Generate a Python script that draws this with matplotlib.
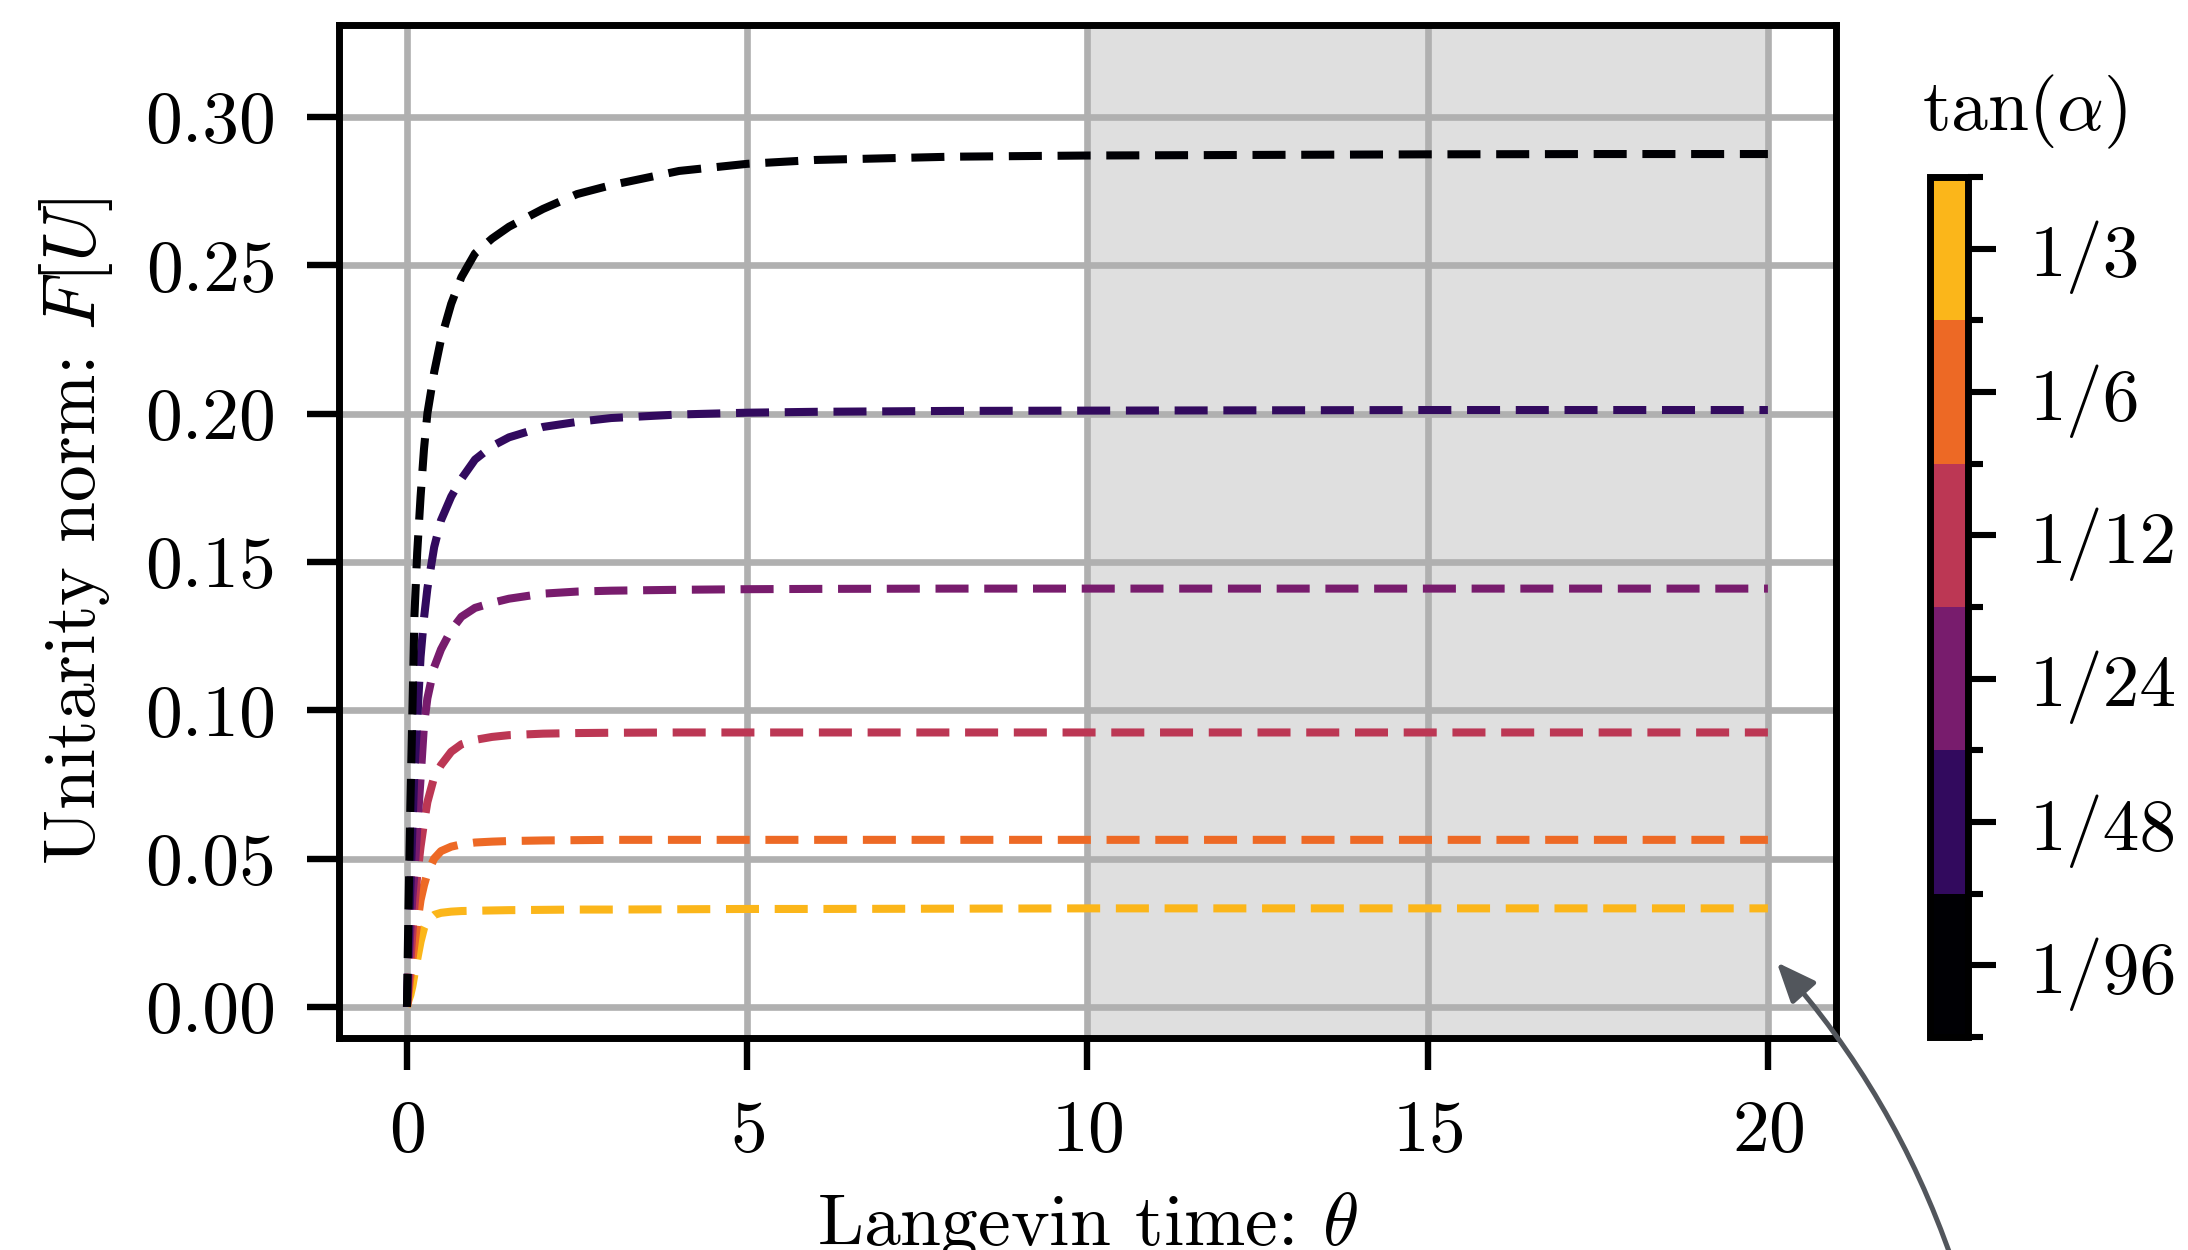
import numpy as np
import matplotlib
matplotlib.use('Agg')
import matplotlib.pyplot as plt
from matplotlib.colors import ListedColormap, BoundaryNorm
from matplotlib.cm import ScalarMappable
from matplotlib.ticker import FixedLocator

plt.rcParams['font.family'] = 'serif'
plt.rcParams['font.serif'] = ['cmr10']
plt.rcParams['mathtext.fontset'] = 'cm'
plt.rcParams['axes.formatter.use_mathtext'] = True
plt.rcParams['font.size'] = 26.5

# Langevin time samples
theta = [0, 0.02, 0.05, 0.08, 0.11, 0.15, 0.2, 0.25, 0.3, 0.4, 0.5, 0.65, 0.8, 1.0,
         1.25, 1.5, 2.0, 2.5, 3.0, 4.0, 5.0, 6.0, 8.0, 10.0, 12.5, 15.0, 17.5, 20.0]

# unitarity norm for each tan(alpha)
F_96 = [0, 0.030, 0.068, 0.100, 0.132, 0.153, 0.172, 0.188, 0.200, 0.214, 0.225, 0.237, 0.246, 0.254,
        0.259, 0.263, 0.269, 0.274, 0.277, 0.2818, 0.2842, 0.2855, 0.2866, 0.2870, 0.2872, 0.2874, 0.2875, 0.2875]
F_48 = [0, 0.018, 0.040, 0.060, 0.080, 0.096, 0.118, 0.131, 0.141, 0.155, 0.164, 0.172, 0.178, 0.1845,
        0.189, 0.192, 0.1955, 0.1972, 0.1985, 0.1997, 0.2003, 0.2006, 0.2009, 0.2010, 0.2011, 0.2012, 0.2012, 0.2012]
F_24 = [0, 0.012, 0.026, 0.037, 0.045, 0.060, 0.077, 0.095, 0.104, 0.1145, 0.1205, 0.127, 0.1315, 0.1345,
        0.1362, 0.1376, 0.1393, 0.1400, 0.1403, 0.1406, 0.1408, 0.1409, 0.1410, 0.1410, 0.1410, 0.1410, 0.1410, 0.1410]
F_12 = [0, 0.006, 0.015, 0.025, 0.034, 0.044, 0.054, 0.062, 0.069, 0.0775, 0.0815, 0.086, 0.0885, 0.0900,
        0.0910, 0.0916, 0.0921, 0.0923, 0.0924, 0.0925, 0.0925, 0.0925, 0.0925, 0.0925, 0.0925, 0.0925, 0.0925, 0.0925]
F_6 = [0, 0.004, 0.010, 0.016, 0.021, 0.028, 0.036, 0.041, 0.045, 0.050, 0.0525, 0.054, 0.0548, 0.0554,
       0.0557, 0.0559, 0.0561, 0.0562, 0.0563, 0.0563, 0.0563, 0.0563, 0.0563, 0.0563, 0.0563, 0.0563, 0.0563, 0.0563]
F_3 = [0, 0.002, 0.004, 0.007, 0.011, 0.016, 0.022, 0.0265, 0.029, 0.031, 0.0317, 0.0321, 0.0323, 0.0324,
       0.0325, 0.0326, 0.0327, 0.0328, 0.0328, 0.0329, 0.0330, 0.0330, 0.0331, 0.0332, 0.0332, 0.0332, 0.0332, 0.0332]

curves = [F_96, F_48, F_24, F_12, F_6, F_3]
tan_labels = ['1/96', '1/48', '1/24', '1/12', '1/6', '1/3']
x_ticks = [0, 5, 10, 15, 20]
y_ticks = [0.00, 0.05, 0.10, 0.15, 0.20, 0.25, 0.30]

colors = plt.cm.inferno(np.arange(6) / 6)

fig = plt.figure(figsize=(10.94, 6.25), dpi=200)
ax = fig.add_axes([0.1549, 0.1696, 0.6842, 0.8104])

# thermalisation window
ax.axvspan(10, 20, color='#dfdfdf', lw=0, zorder=0)

for i, F in enumerate(curves):
    ax.plot(theta, F, color=colors[i], lw=2.9, dashes=(4.1, 1.95), zorder=10 - i)

ax.set_xlim(-1, 21)
ax.set_ylim(-0.0105, 0.331)
ax.set_xticks(x_ticks)
ax.set_yticks(y_ticks)
ax.set_yticklabels(['%.2f' % v for v in y_ticks])
ax.set_axisbelow(True)
ax.grid(True, color='#b0b0b0', lw=2.4)
ax.tick_params(length=11.5, width=2.3, pad=11)
for s in ax.spines.values():
    s.set_linewidth(2.5)

ax.set_xlabel(r'Langevin time: $\theta$', labelpad=9)
ax.set_ylabel(r'Unitarity norm: $F[U]$', labelpad=11)

# discrete colourbar
cmap = ListedColormap(colors)
norm = BoundaryNorm(np.arange(7), 6)
sm = ScalarMappable(norm=norm, cmap=cmap)
cax = fig.add_axes([0.8821, 0.1704, 0.0174, 0.688])
cb = fig.colorbar(sm, cax=cax, ticks=np.arange(6) + 0.5)
cb.set_ticklabels(tan_labels)
cb.outline.set_linewidth(2.5)
cax.yaxis.set_minor_locator(FixedLocator(np.arange(7)))
cax.tick_params(which='major', length=10, width=2.2, pad=12)
cax.tick_params(which='minor', length=5.4, width=2.2)
fig.text(2025 / 2188, 1 - 112 / 1250, r'$\tan(\alpha)$', ha='center', va='center')

# arrow coming in from below the frame
ax.annotate('', xy=(20.13, 0.015), xycoords='data',
            xytext=(1952, -10), textcoords='figure pixels',
            arrowprops=dict(arrowstyle='-|>,head_length=0.6,head_width=0.25',
                            color='#52565c', lw=1.8, shrinkA=0, shrinkB=0,
                            connectionstyle='arc3,rad=0.1', mutation_scale=20),
            annotation_clip=False)

fig.savefig('out.png', dpi=200)
